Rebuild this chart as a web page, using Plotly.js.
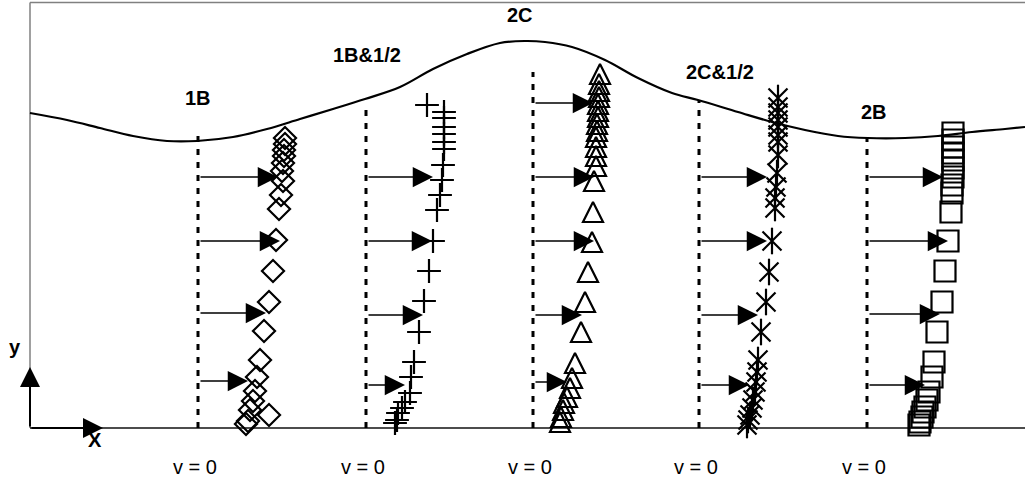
<!DOCTYPE html>
<html><head><meta charset="utf-8">
<script src="https://cdn.plot.ly/plotly-3.0.1.min.js"></script>
<style>html,body{margin:0;padding:0;background:#fff}#chart{width:1025px;height:479px}</style>
</head><body><div id="chart"></div>
<script>
// ---- stations (v = 0 reference lines) ----
const stationNames = ['1B', '1B&1/2', '2C', '2C&1/2', '2B'];
const stationX = [198, 366, 533, 699, 867];
const stationTop = [296, 325, 356, 328, 291];

// ---- free surface (x, height above bed) ----
const surfX = [30, 67, 100, 133, 167, 197, 233, 267, 300, 333, 365, 400, 433, 467, 500, 525, 545, 572, 605, 638, 672, 698, 738, 772, 805, 838, 868, 905, 938, 972, 1005, 1025];
const surfH = [315, 308, 300, 292, 287, 287, 291, 299, 309, 319, 329, 341, 359, 374, 385, 387, 386, 381, 368, 350, 335, 328, 316, 306, 298, 292, 290, 290, 292, 296, 299, 301];

// ---- measured velocity profiles: u = offset from v=0 line, h = height above bed ----
const u_1B = [87, 87, 86, 86, 85, 84, 85, 83, 81, 78, 75, 71, 66, 62, 59, 57, 55, 52, 71, 50, 48];
const h_1B = [290, 284, 278, 272, 265, 257, 247, 233, 219, 188, 157, 126, 97, 68, 51, 37, 27, 18, 13, 7, 4];

const u_1B5 = [61, 78, 78, 78, 78, 78, 78, 77, 76, 74, 71, 67, 63, 58, 53, 48, 45, 44, 39, 36, 32, 31, 29];
const h_1B5 = [323, 316, 310, 301, 294, 286, 279, 263, 248, 233, 218, 187, 157, 127, 96, 66, 51, 35, 26, 20, 15, 8, 5];

const u_2C = [67, 66, 66, 66, 65, 65, 65, 64, 64, 63, 63, 63, 63, 61, 60, 59, 55, 52, 48, 42, 39, 37, 34, 31, 30, 28, 27];
const h_2C = [354, 344, 337, 331, 324, 317, 311, 304, 297, 291, 281, 272, 262, 247, 216, 186, 156, 126, 96, 65, 50, 40, 31, 25, 18, 11, 6];

const u_2C5 = [79, 79, 79, 79, 79, 79, 79, 79, 78, 77, 76, 76, 73, 70, 67, 62, 59, 58, 57, 56, 54, 53, 51, 49, 48];
const h_2C5 = [330, 321, 315, 308, 301, 293, 286, 273, 255, 241, 230, 220, 187, 156, 126, 96, 68, 56, 46, 36, 28, 20, 13, 8, 3];

const u_2B = [86, 86, 86, 86, 86, 86, 86, 85, 85, 84, 81, 78, 75, 70, 67, 65, 62, 60, 58, 56, 55, 53, 52];
const h_2B = [295, 288, 281, 275, 268, 260, 251, 243, 235, 216, 187, 157, 126, 96, 66, 51, 36, 28, 21, 16, 11, 6, 3];

// ---- velocity arrows (height, velocity) ----
const arrH = [[251, 187, 115, 47], [251, 187, 113, 43], [325, 251, 187, 113, 46], [251, 187, 113, 43], [251, 187, 114, 43]];
const arrU = [[80, 82, 68, 50], [67, 66, 57, 39], [60, 61, 61, 49, 34], [68, 68, 59, 50], [76, 81, 73, 58]];

// ---- build ----
const FONT = 'Liberation Sans, Arial, sans-serif';
const FS = 20;
const shift = (arr, s) => arr.map(v => v + s);

const traces = [];
traces.push({x: surfX, y: surfH, mode: 'lines', line: {color: 'black', width: 2.2, shape: 'spline', smoothing: 1}, hoverinfo: 'skip'});

function mk(u, h, i, symbol, size, yoff) {
  return {x: shift(u, stationX[i]), y: shift(h, yoff || 0), mode: 'markers',
    marker: {symbol: symbol, size: size, color: 'black', line: {color: 'black', width: 2.2}}, hoverinfo: 'skip'};
}
traces.push(mk(u_1B, h_1B, 0, 'diamond-open', 17));
traces.push(mk(u_1B5, h_1B5, 1, 'cross-thin-open', 17));
traces.push(mk(u_2C, h_2C, 2, 'arrow-up-open', 20, 10));
traces.push(mk(u_2C5, h_2C5, 3, 'x-thin-open', 19));
traces.push(mk(u_2C5, h_2C5, 3, 'line-ns-open', 19));
traces.push(mk(u_2B, h_2B, 4, 'square-open', 21));

const shapes = [];
// frame
shapes.push({type: 'line', xref: 'x', yref: 'y', x0: 30, x1: 30, y0: 0, y1: 425.5, line: {color: '#808080', width: 1.5}, layer: 'below'});
shapes.push({type: 'line', xref: 'x', yref: 'y', x0: 30, x1: 1025, y0: 425.5, y1: 425.5, line: {color: '#808080', width: 1.5}, layer: 'below'});
shapes.push({type: 'line', xref: 'x', yref: 'y', x0: 30, x1: 1025, y0: 0, y1: 0, line: {color: '#111', width: 1.3}, layer: 'below'});
// dashed v = 0 lines
stationX.forEach((sx, i) => {
  shapes.push({type: 'line', xref: 'x', yref: 'y', x0: sx, x1: sx, y0: 0, y1: stationTop[i],
    line: {color: 'black', width: 3, dash: '6px,7px'}, layer: 'below'});
});

const annotations = [];
const namePos = [[198, 330], [367, 373], [520, 413], [720, 356], [874, 316]];
stationNames.forEach((n, i) => {
  annotations.push({x: namePos[i][0], y: namePos[i][1], xref: 'x', yref: 'y', text: '<b>' + n + '</b>', showarrow: false,
    font: {family: FONT, size: FS, color: 'black'}, xanchor: 'center', yanchor: 'middle'});
  annotations.push({x: stationX[i] - 3, y: -39, xref: 'x', yref: 'y', text: 'v = 0', showarrow: false,
    font: {family: FONT, size: FS, color: 'black'}, xanchor: 'center', yanchor: 'middle'});
});
// axis labels
annotations.push({x: 15, y: 81, xref: 'x', yref: 'y', text: '<b>y</b>', showarrow: false, font: {family: FONT, size: FS, color: 'black'}, xanchor: 'center', yanchor: 'middle'});
annotations.push({x: 95, y: -12, xref: 'x', yref: 'y', text: '<b>X</b>', showarrow: false, font: {family: FONT, size: FS, color: 'black'}, xanchor: 'center', yanchor: 'middle'});
// axis arrows
annotations.push({x: 30, y: 61, ax: 30, ay: 0, xref: 'x', yref: 'y', axref: 'x', ayref: 'y', text: '', showarrow: true,
  arrowhead: 2, arrowsize: 2, arrowwidth: 2, arrowcolor: 'black', standoff: 0});
annotations.push({x: 103, y: 0, ax: 30, ay: 0, xref: 'x', yref: 'y', axref: 'x', ayref: 'y', text: '', showarrow: true,
  arrowhead: 2, arrowsize: 2, arrowwidth: 2, arrowcolor: 'black', standoff: 0});
// velocity arrows
arrH.forEach((hs, i) => {
  hs.forEach((h, k) => {
    annotations.push({x: stationX[i] + arrU[i][k], y: h, ax: stationX[i] + 1, ay: h, xref: 'x', yref: 'y', axref: 'x', ayref: 'y',
      text: '', showarrow: true, arrowhead: 2, arrowsize: 2.7, arrowwidth: 1.5, arrowcolor: 'black', standoff: 0});
  });
});

const layout = {
  width: 1025, height: 479, margin: {l: 0, r: 0, t: 0, b: 0},
  paper_bgcolor: 'white', plot_bgcolor: 'white', showlegend: false,
  xaxis: {range: [0, 1025], visible: false, fixedrange: true},
  yaxis: {range: [-51, 428], visible: false, fixedrange: true},
  shapes: shapes, annotations: annotations
};
Plotly.newPlot('chart', traces, layout, {staticPlot: true, displayModeBar: false});
</script>
</body></html>
